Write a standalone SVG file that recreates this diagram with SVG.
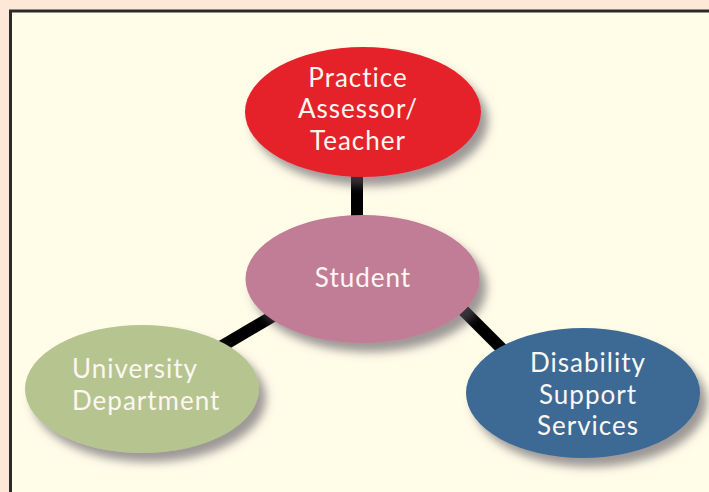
<svg xmlns="http://www.w3.org/2000/svg" width="709" height="492" viewBox="0 0 709 492">
<defs>
<filter id="shadow" x="-20%" y="-20%" width="150%" height="160%">
<feDropShadow dx="7" dy="9" stdDeviation="5" flood-color="#5a5560" flood-opacity="0.6"/>
</filter>
</defs>
<style>
.node{filter:url(#shadow);}
.lbl{font-family:Lato,"Noto Sans","Liberation Sans",sans-serif;font-size:26px;letter-spacing:1px;fill:#fdf7f2;text-anchor:middle;}
.left{text-anchor:start;}
.conn{stroke:#000;stroke-width:12;fill:none;}
</style>
<rect x="0" y="0" width="709" height="492" fill="#fde8d8"/>
<rect x="10.5" y="11" width="740" height="520" fill="#fffce8" stroke="#2b2b2b" stroke-width="3"/>
<g id="connectors">
<line class="conn" x1="357" y1="165" x2="357" y2="225"/>
<line class="conn" x1="285" y1="309" x2="212" y2="352"/>
<line class="conn" x1="448" y1="295" x2="517" y2="364"/>
</g>
<g id="node-practice">
<ellipse class="node" cx="363" cy="112" rx="118" ry="65" fill="#e5232b"/>
<text class="lbl" x="358" y="86.5">Practice</text>
<text class="lbl" x="358" y="118">Assessor/</text>
<text class="lbl" x="358" y="149.5">Teacher</text>
</g>
<g id="node-student">
<ellipse class="node" cx="362.5" cy="279" rx="117" ry="64" fill="#c27d96"/>
<text class="lbl" x="363" y="287">Student</text>
</g>
<g id="node-university">
<ellipse class="node" cx="142" cy="389" rx="117" ry="64" fill="#b6c48f"/>
<text class="lbl left" x="72" y="378">University</text>
<text class="lbl left" x="72" y="410">Department</text>
</g>
<g id="node-disability">
<ellipse class="node" cx="583" cy="393" rx="117" ry="65" fill="#3e6995"/>
<text class="lbl" x="588" y="372">Disability</text>
<text class="lbl" x="588" y="403.5">Support</text>
<text class="lbl" x="588" y="435">Services</text>
</g>
</svg>
